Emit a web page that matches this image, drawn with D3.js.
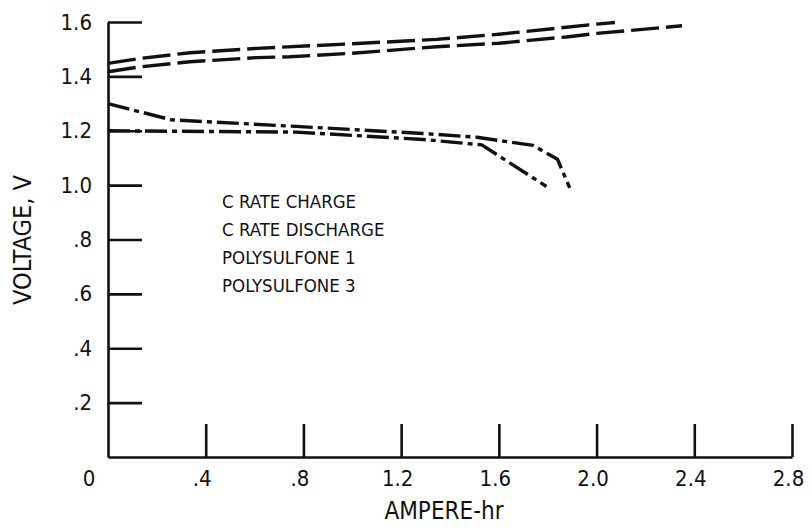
<!DOCTYPE html>
<html>
<head>
<meta charset="utf-8">
<script src="https://cdn.jsdelivr.net/npm/d3@7"></script>
<style>
  body { margin: 0; background: #fff; }
  text { font-family: "Liberation Sans Narrow", "DejaVu Sans Condensed", "Liberation Sans", sans-serif; fill: #111; }
</style>
</head>
<body>
<div id="chart"></div>
<script>
//////////////////////////////////////////////////////////////////////////////
// Data (ampere-hr, volts)

var chargeUpper = [[0,1.448],[0.13,1.466],[0.336,1.487],[0.609,1.503],[1.0,1.52],[1.345,1.536],[1.6,1.555],[2.0,1.592],[2.075,1.598]];
var chargeLower = [[0,1.417],[0.13,1.435],[0.336,1.454],[0.609,1.469],[0.745,1.472],[1.0,1.485],[1.345,1.509],[1.6,1.522],[1.877,1.545],[2.0,1.558],[2.35,1.586]];
var dischargeUpper = [[0,1.3],[0.26,1.24],[0.77,1.216],[1.29,1.19],[1.51,1.176],[1.74,1.146],[1.84,1.095],[1.89,0.99]];
var dischargeLower = [[0,1.2],[0.77,1.195],[1.29,1.168],[1.53,1.148],[1.795,0.995]];

var xTicks = [0.4, 0.8, 1.2, 1.6, 2.0, 2.4, 2.8];
var yTicks = [0.2, 0.4, 0.6, 0.8, 1.0, 1.2, 1.4, 1.6];
var legendLines = ["C RATE CHARGE", "C RATE DISCHARGE", "POLYSULFONE 1", "POLYSULFONE 3"];

//////////////////////////////////////////////////////////////////////////////
// Scales, svg

var width = 812, height = 527;
var x0 = 108, x1 = 792, y0 = 457, y1 = 22;

var xScale = d3.scaleLinear().domain([0, 2.8]).range([x0, x1]);
var yScale = d3.scaleLinear().domain([0, 1.6]).range([y0, y1]);

var svg = d3.select("#chart").append("svg")
    .attr("width", width)
    .attr("height", height);

function fmt(d) { return d >= 1 ? d.toFixed(1) : "." + Math.round(d * 10); }

//////////////////////////////////////////////////////////////////////////////
// Axes (ticks point into the plot)

var yAxis = d3.axisLeft(yScale)
    .tickValues(yTicks)
    .tickSizeInner(-34).tickSizeOuter(0).tickPadding(16)
    .tickFormat(fmt);

var xAxis = d3.axisBottom(xScale)
    .tickValues(xTicks)
    .tickSizeInner(-33).tickSizeOuter(0).tickPadding(13)
    .tickFormat(fmt);

var gy = svg.append("g").attr("transform", "translate(" + x0 + ",0)").call(yAxis);
var gx = svg.append("g").attr("transform", "translate(0," + y0 + ")").call(xAxis);

[gy, gx].forEach(function(g) {
    g.select(".domain").attr("stroke", "#111").attr("stroke-width", 2.6);
    g.selectAll(".tick line").attr("stroke", "#111").attr("stroke-width", 2.6);
    g.selectAll(".tick text").attr("font-size", 22).attr("fill", "#111");
});
gx.selectAll(".tick text").attr("dx", -4);

svg.append("text")
    .attr("x", xScale(0) - 19).attr("y", y0 + 13)
    .attr("dy", "0.71em")
    .attr("text-anchor", "middle").attr("font-size", 22)
    .text("0");

svg.append("text")
    .attr("x", 444).attr("y", 519)
    .attr("text-anchor", "middle").attr("font-size", 24)
    .text("AMPERE-hr");

svg.append("text")
    .attr("transform", "translate(31,240) rotate(-90)")
    .attr("text-anchor", "middle").attr("font-size", 25)
    .text("VOLTAGE, V");

//////////////////////////////////////////////////////////////////////////////
// Curves

var line = d3.line()
    .x(function(d) { return xScale(d[0]); })
    .y(function(d) { return yScale(d[1]); });

var curves = [
    { data: chargeUpper, dash: "28,7" },
    { data: chargeLower, dash: "28,7" },
    { data: dischargeUpper, dash: "22,5,5,5" },
    { data: dischargeLower, dash: "22,5,5,5" }
];

svg.append("g").selectAll("path")
    .data(curves)
    .enter()
    .append("path")
    .attr("d", function(d) { return line(d.data); })
    .attr("fill", "none")
    .attr("stroke", "#111")
    .attr("stroke-width", 3.4)
    .attr("stroke-dasharray", function(d) { return d.dash; });

//////////////////////////////////////////////////////////////////////////////
// Legend text

svg.append("g").selectAll("text")
    .data(legendLines)
    .enter()
    .append("text")
    .attr("x", 222)
    .attr("y", function(d, i) { return 208 + i * 28; })
    .attr("font-size", 18.5)
    .text(function(d) { return d; });
</script>
</body>
</html>
